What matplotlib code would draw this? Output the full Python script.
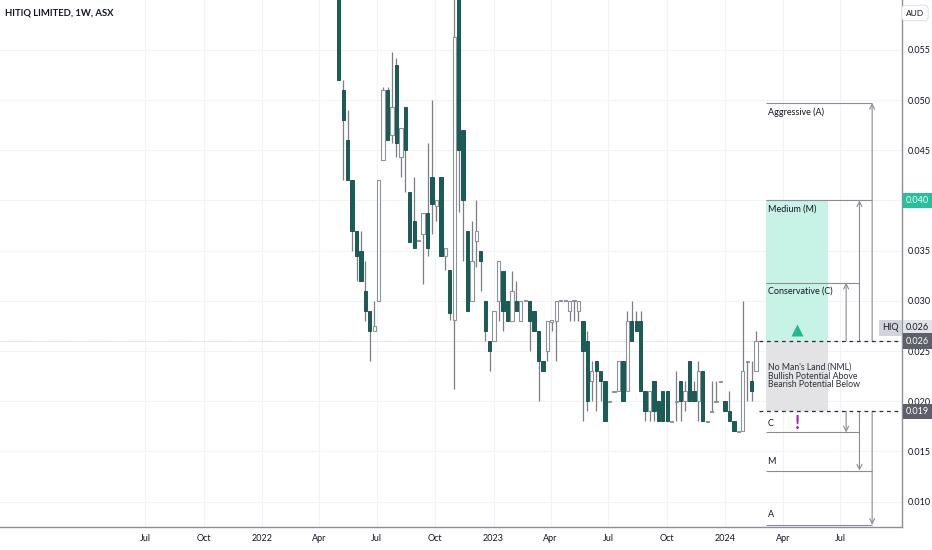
import numpy as np
import pandas as pd
import matplotlib
matplotlib.use("Agg")
import matplotlib.pyplot as plt
import matplotlib.dates as mdates
import matplotlib.transforms as mtransforms

plt.rcParams['font.family'] = ['Liberation Sans Narrow', 'Lato', 'DejaVu Sans']

# weekly candles, HIQ (ASX)
first_week = '2022-05-02'
opens = [0.070, 0.051, 0.046, 0.042, 0.037, 0.035, 0.031, 0.029, 0.027, 0.030,
         0.044, 0.051, 0.0465, 0.0535, 0.0443, 0.0493, 0.0408, 0.038, 0.036, 0.0367,
         0.0387, 0.0423, 0.0394, 0.0423, 0.0345, 0.0331, 0.0281, 0.068, 0.047, 0.037,
         0.030, 0.036, 0.035, 0.030, 0.026, 0.026, 0.030, 0.033, 0.030, 0.028,
         0.030, 0.028, 0.030, 0.030, 0.029, 0.027, 0.024, 0.025, 0.028, 0.028,
         0.030, 0.030, 0.029, 0.030, 0.029, 0.028, 0.026, 0.022, 0.024, 0.023,
         0.022, 0.020, 0.021, 0.021, 0.024, 0.021, 0.028, 0.028, 0.028, 0.021,
         0.019, 0.022, 0.020, 0.021, 0.021, 0.018, 0.020, 0.022, 0.020, 0.024,
         0.021, 0.020, 0.023, 0.018, 0.019, 0.020, 0.022, 0.020, 0.019, 0.018,
         0.017, 0.017, 0.024, 0.022, 0.023]
closes = [0.052, 0.048, 0.042, 0.037, 0.0345, 0.032, 0.029, 0.027, 0.0275, 0.042,
          0.051, 0.046, 0.0493, 0.0457, 0.0472, 0.045, 0.0359, 0.0353, 0.036, 0.0387,
          0.0353, 0.0396, 0.040, 0.0345, 0.0353, 0.0288, 0.0563, 0.045, 0.040, 0.029,
          0.034, 0.037, 0.034, 0.027, 0.025, 0.029, 0.034, 0.029, 0.028, 0.031,
          0.029, 0.030, 0.030, 0.028, 0.027, 0.024, 0.023, 0.028, 0.028, 0.030,
          0.030, 0.030, 0.030, 0.030, 0.030, 0.025, 0.020, 0.023, 0.023, 0.022,
          0.018, 0.020, 0.021, 0.024, 0.020, 0.028, 0.026, 0.027, 0.021, 0.019,
          0.021, 0.019, 0.018, 0.018, 0.018, 0.018, 0.020, 0.020, 0.021, 0.020,
          0.020, 0.023, 0.018, 0.018, 0.019, 0.020, 0.022, 0.019, 0.018, 0.017,
          0.017, 0.023, 0.024, 0.021, 0.026]
highs = [0.072, 0.052, 0.049, 0.042, 0.037, 0.037, 0.034, 0.029, 0.030, 0.042,
         0.0513, 0.0513, 0.0548, 0.0542, 0.0472, 0.0493, 0.0408, 0.0423, 0.036, 0.0387,
         0.0457, 0.050, 0.040, 0.0423, 0.0353, 0.0331, 0.072, 0.072, 0.047, 0.037,
         0.038, 0.040, 0.035, 0.030, 0.026, 0.029, 0.034, 0.033, 0.030, 0.033,
         0.032, 0.030, 0.030, 0.030, 0.029, 0.027, 0.024, 0.028, 0.028, 0.030,
         0.030, 0.030, 0.030, 0.030, 0.030, 0.028, 0.027, 0.024, 0.024, 0.023,
         0.022, 0.020, 0.021, 0.024, 0.024, 0.029, 0.030, 0.029, 0.029, 0.021,
         0.021, 0.022, 0.020, 0.021, 0.021, 0.018, 0.023, 0.022, 0.022, 0.024,
         0.022, 0.024, 0.023, 0.018, 0.022, 0.022, 0.022, 0.020, 0.021, 0.018,
         0.017, 0.030, 0.024, 0.024, 0.027]
lows = [0.052, 0.042, 0.042, 0.035, 0.032, 0.032, 0.028, 0.024, 0.027, 0.030,
        0.044, 0.046, 0.0457, 0.0443, 0.0423, 0.0408, 0.0359, 0.0353, 0.036, 0.0317,
        0.0345, 0.0367, 0.038, 0.0345, 0.0331, 0.0281, 0.0212, 0.0388, 0.034, 0.029,
        0.030, 0.0334, 0.031, 0.026, 0.023, 0.026, 0.028, 0.027, 0.028, 0.028,
        0.029, 0.028, 0.030, 0.025, 0.027, 0.020, 0.023, 0.024, 0.027, 0.024,
        0.030, 0.030, 0.028, 0.028, 0.028, 0.018, 0.019, 0.020, 0.019, 0.020,
        0.018, 0.020, 0.021, 0.021, 0.020, 0.021, 0.026, 0.027, 0.021, 0.018,
        0.018, 0.018, 0.018, 0.018, 0.018, 0.018, 0.018, 0.018, 0.019, 0.020,
        0.020, 0.018, 0.018, 0.018, 0.019, 0.020, 0.022, 0.019, 0.018, 0.017,
        0.017, 0.017, 0.020, 0.020, 0.023]

# price levels of the drawing on the right
nml_top = 0.026
nml_bot = 0.019
up_targets = {'Conservative (C)': 0.0318, 'Medium (M)': 0.040, 'Aggressive (A)': 0.0497}
down_targets = {'C': 0.0169, 'M': 0.0131, 'A': 0.0077}

y_ticks = [0.010, 0.015, 0.020, 0.025, 0.030, 0.035, 0.040, 0.045, 0.050, 0.055]
x_tick_dates = ['2021-07-01', '2021-10-01', '2022-01-01', '2022-04-01', '2022-07-01',
                '2022-10-01', '2023-01-01', '2023-04-01', '2023-07-01', '2023-10-01',
                '2024-01-01', '2024-04-01', '2024-07-01']
x_tick_labels = ['Jul', 'Oct', '2022', 'Apr', 'Jul', 'Oct', '2023', 'Apr', 'Jul', 'Oct',
                 '2024', 'Apr', 'Jul']

dark = '#165e58'
wick = '#7b7e86'
txt = '#131722'

fig = plt.figure(figsize=(9.32, 5.5), dpi=100)
ax = fig.add_axes([0, 23 / 550, 902 / 932, 527 / 550])

dates = pd.date_range(first_week, periods=len(opens), freq='7D')
x = mdates.date2num(dates)
o = np.array(opens)
c = np.array(closes)
h = np.array(highs)
l = np.array(lows)
up = c >= o

ax.vlines(x, l, h, color=wick, lw=0.9, zorder=2)
body = np.maximum(np.abs(c - o), 0.00012)
bottom = np.where(np.abs(c - o) < 0.00012, o - 0.00006, np.minimum(o, c))
ax.bar(x[up], body[up], bottom=bottom[up], width=5.2, color='white',
       edgecolor='#8f9299', lw=0.8, zorder=3)
ax.bar(x[~up], body[~up], bottom=bottom[~up], width=5.2, color=dark,
       edgecolor='#0f4a45', lw=0.6, zorder=3)

# last price line
ax.axhline(c[-1], color='#c9ccd3', lw=0.6, ls=(0, (1, 1)), zorder=1)

# horizontal scale: 2022-01-01 at 262px, 2024-01-01 at 725px
base = mdates.date2num(pd.Timestamp('2022-01-01'))
ppd = 463 / 730.0
ax.set_xlim(base - 262 / ppd, base + 640 / ppd)
ax.set_ylim(0.00748, 0.05996)

def d(s):
    return mdates.date2num(pd.Timestamp(s))

bx0, bx1 = d('2024-03-06'), d('2024-06-12')
xc, xm, xa = d('2024-07-10'), d('2024-07-31'), d('2024-08-20')
dash0 = d('2024-02-24')
arrows = {'C': xc, 'M': xm, 'A': xa}
line_end = {'C': xm, 'M': xa, 'A': xa}

# zones
ax.fill_between([bx0, bx1], nml_top, up_targets['Medium (M)'], color='#c6f3e6', lw=0, zorder=1)
ax.fill_between([bx0, bx1], nml_bot, nml_top, color='#e3e3e5', lw=0, zorder=1)
ax.hlines([nml_top, nml_bot], dash0, ax.get_xlim()[1], colors='#2a2e39', lw=0.9,
          linestyles=(0, (3, 3)), zorder=4)

aprops = dict(arrowstyle='->', color='#8a8d95', lw=0.8, shrinkA=0, shrinkB=0,
              mutation_scale=9)
for name, lvl in up_targets.items():
    key = name[-2]
    ax.hlines(lvl, bx0, line_end[key], colors='#8a8d95', lw=0.8, zorder=2)
    ax.annotate('', xy=(arrows[key], lvl), xytext=(arrows[key], nml_top), arrowprops=aprops)
    ax.annotate(name, (bx0, lvl), xytext=(1, -3), textcoords='offset points',
                fontsize=6.5, color=txt, va='top', ha='left')
for key, lvl in down_targets.items():
    ax.hlines(lvl, bx0, line_end[key], colors='#8a8d95', lw=0.8, zorder=2)
    ax.annotate('', xy=(arrows[key], lvl), xytext=(arrows[key], nml_bot), arrowprops=aprops)
    ax.annotate(key, (bx0, lvl), xytext=(1, 3 if key != 'A' else 4), textcoords='offset points',
                fontsize=6.5, color=txt, va='bottom', ha='left')

ax.text(bx0, 0.0225, "No Man's Land (NML)\nBullish Potential Above\nBearish Potential Below",
        transform=mtransforms.offset_copy(ax.transData, fig=fig, x=1, y=0, units='points'),
        fontsize=6.3, color='#2a2e39', va='center', ha='left', linespacing=0.95)
mid = (bx0 + bx1) / 2
ax.plot([mid], [0.0271], marker='^', ms=8, color='#22b98f', mec='none', zorder=5)
ax.text(mid, 0.0178, '!', fontsize=13, color='#9c27b0', fontweight='bold',
        ha='center', va='center', zorder=5)

# axes styling
for s in ['top', 'left']:
    ax.spines[s].set_visible(False)
for s in ['right', 'bottom']:
    ax.spines[s].set_color('#8c8f97')
    ax.spines[s].set_linewidth(1.0)
ax.yaxis.tick_right()
ax.set_yticks(y_ticks)
ax.set_yticklabels(['%.3f' % v for v in y_ticks])
ax.set_xticks([d(s) for s in x_tick_dates])
ax.set_xticklabels(x_tick_labels)
ax.tick_params(axis='both', length=0, labelsize=6.5, labelcolor=txt)
ax.tick_params(axis='y', pad=4)
ax.tick_params(axis='x', pad=5)
ax.grid(True, color='#f1f3f7', lw=0.8, zorder=0)
ax.set_axisbelow(True)

# price scale labels
tr = mtransforms.blended_transform_factory(fig.transFigure, ax.transData)
lx = 906 / 932
ax.text(lx, up_targets['Medium (M)'], '0.040', transform=tr, fontsize=6.5, color='white',
        va='center', ha='left', clip_on=False, zorder=10,
        bbox=dict(boxstyle='square,pad=0.35', fc='#22c29c', ec='none'))
ax.text(lx, 0.0273, '0.026', transform=tr, fontsize=6.5, color=txt,
        va='center', ha='left', clip_on=False, zorder=10,
        bbox=dict(boxstyle='square,pad=0.35', fc='#e1e3e8', ec='none'))
ax.text(899 / 932, 0.0273, 'HIQ', transform=tr, fontsize=6.5, color=txt,
        va='center', ha='right', clip_on=False, zorder=10,
        bbox=dict(boxstyle='square,pad=0.35', fc='#d1d4dc', ec='none'))
for lvl in [nml_top, nml_bot]:
    ax.text(lx, lvl, '%.3f' % lvl, transform=tr, fontsize=6.5, color='white',
            va='center', ha='left', clip_on=False, zorder=10,
            bbox=dict(boxstyle='square,pad=0.35', fc='#5d606b', ec='none'))

fig.text(915 / 932, 1 - 13 / 550, 'AUD', fontsize=6, color=txt, ha='center', va='center',
         bbox=dict(boxstyle='round,pad=0.5', fc='white', ec='#e0e3eb', lw=0.8))
fig.text(5 / 932, 1 - 13 / 550, 'HITIQ LIMITED, 1W, ASX', fontsize=6.8, color=txt,
         ha='left', va='center', fontweight='bold')

fig.savefig('out.png', dpi=100, facecolor='white')
